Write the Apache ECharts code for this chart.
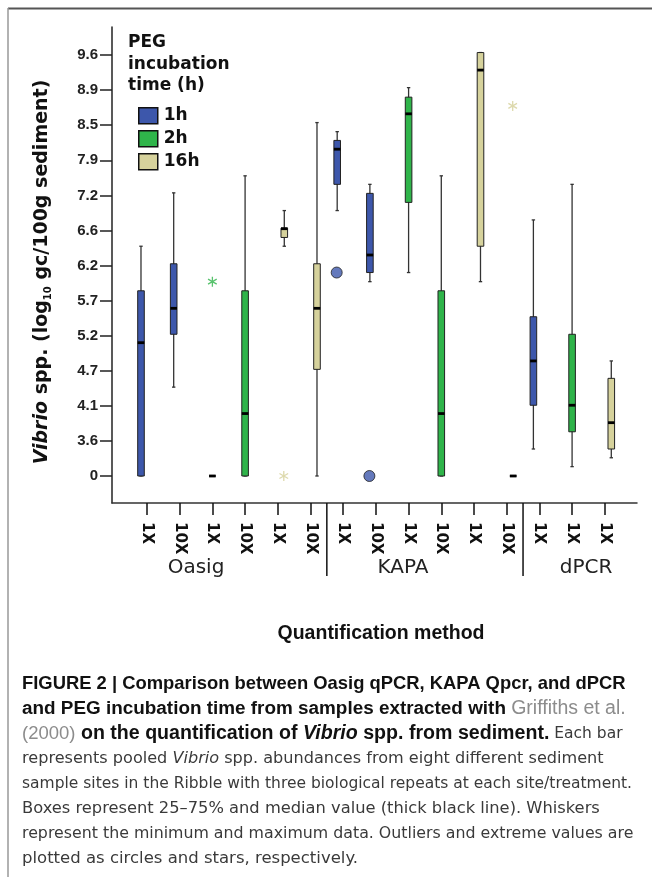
<!DOCTYPE html>
<html><head><meta charset="utf-8">
<script src="https://cdn.jsdelivr.net/npm/echarts@6/dist/echarts.min.js"></script>
<style>html,body{margin:0;padding:0;background:#fff}#c{width:652px;height:877px}</style>
</head><body><div id="c"></div>
<script>
// ---- data ----
const yTickLabels = ['0','3.6','4.1','4.7','5.2','5.7','6.2','6.6','7.2','7.9','8.5','8.9','9.6'];
const categories = ['1X','10X','1X','10X','1X','10X','1X','10X','1X','10X','1X','10X','1X','1X','1X'];
const groups = ['Oasig','KAPA','dPCR'];
const seriesNames = ['1h','2h','16h'];
// [category index, min, Q1, median, Q3, max]  (log10 gc/100g sediment)
const box1h = [[0,0,0,5.10,5.84,6.42],[1,4.42,5.22,5.59,6.22,7.25],[6,6.94,7.42,8.09,8.24,8.39],[7,5.97,6.10,6.32,7.24,7.42],[12,2.77,4.11,4.84,5.47,6.78]];
const box2h = [[2,0,0,0,0,0],[3,0,0,3.99,5.84,7.59],[8,6.10,7.08,8.63,8.82,8.95],[9,0,0,3.99,5.84,7.59],[13,0.96,3.73,4.11,5.22,7.42]];
const box16h = [[4,6.42,6.52,6.63,6.64,6.94],[5,0,4.72,5.59,6.22,8.53],[10,5.97,6.42,9.30,9.65,9.65],[11,0,0,0,0,0],[14,1.87,2.77,3.86,4.57,4.84]];
const outliers1h = [[6,6.10],[7,0]];
const extremes2h = [[2,5.97]];
const extremes16h = [[4,0],[11,8.72]];
const groupSeparators = [5.5, 11.5];

// ---- helpers ----
const tickVals = yTickLabels.map(Number);
function toPos(v){
  for (let i=0;i<tickVals.length-1;i++){ if (v<=tickVals[i+1]) return i + (v-tickVals[i])/(tickVals[i+1]-tickVals[i]); }
  const n=tickVals.length-1; return n + (v-tickVals[n])/(tickVals[n]-tickVals[n-1]);
}
const COLORS = {blue:'#3d57ab', green:'#2fb44a', tan:'#d6d29c'};
const Y_MIN = -0.77, Y_MAX = 12.8;

function boxSeries(name, data, color, dx){
  return {
    type:'custom', name, itemStyle:{color}, clip:false, z:3,
    data: data.map(d=>[d[0]].concat(d.slice(1).map(toPos))),
    encode:{x:0, y:[1,2,3,4,5]},
    renderItem(params, api){
      const x = api.value(0);
      const p = [1,2,3,4,5].map(i=>api.coord([x, api.value(i)]));
      const cx = p[0][0] + dx;
      const yMin=p[0][1], yQ1=p[1][1], yMed=p[2][1], yQ3=p[3][1], yMax=p[4][1];
      const hw = 3.3, cw = 1.7;
      const ws = {stroke:'#333', lineWidth:1.3};
      return {type:'group', children:[
        {type:'line', shape:{x1:cx,y1:yMax,x2:cx,y2:yMin}, style:ws},
        {type:'line', shape:{x1:cx-cw,y1:yMax,x2:cx+cw,y2:yMax}, style:ws},
        {type:'line', shape:{x1:cx-cw,y1:yMin,x2:cx+cw,y2:yMin}, style:ws},
        {type:'rect', shape:{x:cx-hw,y:yQ3,width:2*hw,height:yQ1-yQ3}, style:{fill:color, stroke:'#222', lineWidth:1}},
        {type:'line', shape:{x1:cx-hw,y1:yMed,x2:cx+hw,y2:yMed}, style:{stroke:'#000', lineWidth:2.8}}
      ]};
    }
  };
}
function starPath(){
  let s='path://'; const L=10, W=1.3;
  [90,30,-30].forEach(a=>{
    const r=a*Math.PI/180, ux=Math.cos(r), uy=Math.sin(r), px=-uy, py=ux;
    const pts=[[L*ux+W*px,L*uy+W*py],[L*ux-W*px,L*uy-W*py],[-L*ux-W*px,-L*uy-W*py],[-L*ux+W*px,-L*uy+W*py]];
    s+='M'+pts.map(q=>q[0].toFixed(2)+' '+q[1].toFixed(2)).join('L')+'Z';
  });
  return s;
}
const STAR = starPath();

function bold(sz){ return {fontFamily:'Liberation Sans', fontWeight:'bold', fontSize:sz, fill:'#111'}; }
function boldIt(sz){ return {fontFamily:'Liberation Sans', fontWeight:'bold', fontStyle:'italic', fontSize:sz, fill:'#111'}; }
function gray(sz){ return {fontFamily:'Liberation Sans', fontSize:sz, fill:'#8c8c8c'}; }
function reg(sz){ return {fontFamily:'DejaVu Sans', fontSize:sz, fill:'#3a3a3a'}; }
function regIt(sz){ return {fontFamily:'DejaVu Sans', fontStyle:'italic', fontSize:sz, fill:'#3a3a3a'}; }
const captionLines = [
  {t:'{b|FIGURE 2 | Comparison between Oasig qPCR, KAPA Qpcr, and dPCR}', rich:{b:bold(18.4)}},
  {t:'{b|and PEG incubation time from samples extracted with }{g|Griffiths et al.}', rich:{b:bold(18.9), g:gray(19.5)}},
  {t:'{g|(2000)}{b| on the quantification of }{bi|Vibrio}{b| spp. from sediment.}{r| Each bar}', rich:{g:gray(18.5), b:bold(19.6), bi:boldIt(19.6), r:reg(15.5)}},
  {t:'{r|represents pooled }{ri|Vibrio}{r| spp. abundances from eight different sediment}', rich:{r:reg(16.1), ri:regIt(16.1)}},
  {t:'{r|sample sites in the Ribble with three biological repeats at each site/treatment.}', rich:{r:reg(15.5)}},
  {t:'{r|Boxes represent 25–75% and median value (thick black line). Whiskers}', rich:{r:reg(16.3)}},
  {t:'{r|represent the minimum and maximum data. Outliers and extreme values are}', rich:{r:reg(15.8)}},
  {t:'{r|plotted as circles and stars, respectively.}', rich:{r:reg(16.5)}}
];
const graphics = [
  {type:'line', shape:{x1:8,y1:8.5,x2:652,y2:8.5}, style:{stroke:'#555', lineWidth:2}},
  {type:'line', shape:{x1:8,y1:8,x2:8,y2:877}, style:{stroke:'#999', lineWidth:1.5}},
  {type:'text', x:42, y:272, rotation:Math.PI/2, style:{
    text:'{i|Vibrio}{n| spp. (log}{s|10}{n| gc/100g sediment)}', align:'center', verticalAlign:'middle',
    rich:{
      n:{fontFamily:'DejaVu Sans', fontWeight:'bold', fontSize:19, fill:'#111', lineHeight:22, verticalAlign:'middle'},
      i:{fontFamily:'DejaVu Sans', fontWeight:'bold', fontStyle:'italic', fontSize:19, fill:'#111', lineHeight:22, verticalAlign:'middle'},
      s:{fontFamily:'DejaVu Sans', fontWeight:'bold', fontSize:10, fill:'#111', lineHeight:10, verticalAlign:'bottom'}
    }}},
  {type:'text', x:196, y:568, style:{text:groups[0], font:'20px "DejaVu Sans"', fill:'#222', align:'center', verticalAlign:'middle'}},
  {type:'text', x:403, y:568, style:{text:groups[1], font:'20px "DejaVu Sans"', fill:'#222', align:'center', verticalAlign:'middle'}},
  {type:'text', x:586, y:568, style:{text:groups[2], font:'20px "DejaVu Sans"', fill:'#222', align:'center', verticalAlign:'middle'}},
  {type:'text', x:381, y:634, style:{text:'Quantification method', font:'bold 19.5px "Liberation Sans"', fill:'#111', align:'center', verticalAlign:'middle'}}
];
captionLines.forEach((c,i)=>{
  graphics.push({type:'text', x:22, y:684+25*i, style:{text:c.t, rich:c.rich, align:'left', verticalAlign:'middle'}});
});

const range = n=>Array.from({length:n},(_,i)=>i);
const option = {
  animation:false,
  backgroundColor:'#fff',
  title:{text:'PEG\nincubation\ntime (h)', left:128, top:32, padding:0,
    textStyle:{fontFamily:'DejaVu Sans', fontWeight:'bold', fontSize:17, color:'#111', lineHeight:21.5}},
  legend:{orient:'vertical', left:138, top:107, itemWidth:19, itemHeight:16, itemGap:5.5, padding:0, selectedMode:false,
    textStyle:{fontFamily:'DejaVu Sans', fontWeight:'bold', fontSize:17, color:'#111', lineHeight:16, padding:[0,0,0,1]},
    data:seriesNames.map(n=>({name:n, icon:'rect', itemStyle:{borderColor:'#111', borderWidth:1.5}}))},
  grid:{left:112, top:27, width:525, height:476},
  xAxis:{type:'value', min:-1.07, max:14.985,
    axisLine:{show:true, onZero:false, lineStyle:{color:'#333', width:1.5}},
    axisTick:{show:true, customValues:range(categories.length), length:12, lineStyle:{color:'#111', width:1.5}},
    axisLabel:{customValues:range(categories.length), formatter:v=>categories[Math.round(v)], rotate:-90, margin:19,
      fontFamily:'DejaVu Sans', fontWeight:'bold', fontSize:15, color:'#111'},
    splitLine:{show:false}},
  yAxis:{type:'value', min:Y_MIN, max:Y_MAX,
    axisLine:{show:true, onZero:false, lineStyle:{color:'#222', width:1.5}},
    axisTick:{show:true, customValues:range(yTickLabels.length), length:12, lineStyle:{color:'#222', width:1.5}},
    axisLabel:{customValues:range(yTickLabels.length), formatter:v=>yTickLabels[Math.round(v)], margin:14,
      fontFamily:'Liberation Sans', fontWeight:'bold', fontSize:15, color:'#222'},
    splitLine:{show:false}},
  graphic:graphics,
  series:[
    boxSeries(seriesNames[0], box1h, COLORS.blue, -6),
    boxSeries(seriesNames[1], box2h, COLORS.green, 0),
    boxSeries(seriesNames[2], box16h, COLORS.tan, 6.5),
    {type:'scatter', name:'outliers', data:outliers1h.map(d=>[d[0], toPos(d[1])]), symbol:'circle', symbolSize:11,
      symbolOffset:[-6.5,0], itemStyle:{color:COLORS.blue, borderColor:'#222', borderWidth:1}, silent:true, z:5},
    {type:'scatter', name:'ext2', data:extremes2h.map(d=>[d[0], toPos(d[1])]), symbol:STAR, symbolSize:10, symbolKeepAspect:true,
      symbolOffset:[0,0], itemStyle:{color:COLORS.green}, silent:true, z:5},
    {type:'scatter', name:'ext16', data:extremes16h.map(d=>[d[0], toPos(d[1])]), symbol:STAR, symbolSize:10, symbolKeepAspect:true,
      symbolOffset:[6,0], itemStyle:{color:'#d4cf98'}, silent:true, z:5},
    {type:'custom', name:'sep', clip:false, silent:true, data:groupSeparators.map(v=>[v]), encode:{x:0},
      renderItem(params, api){
        const p = api.coord([api.value(0), Y_MIN]);
        return {type:'line', shape:{x1:p[0],y1:p[1],x2:p[0],y2:p[1]+73}, style:{stroke:'#111', lineWidth:1.5}};
      }}
  ]
};
echarts.init(document.getElementById('c')).setOption(option);
</script></body></html>
